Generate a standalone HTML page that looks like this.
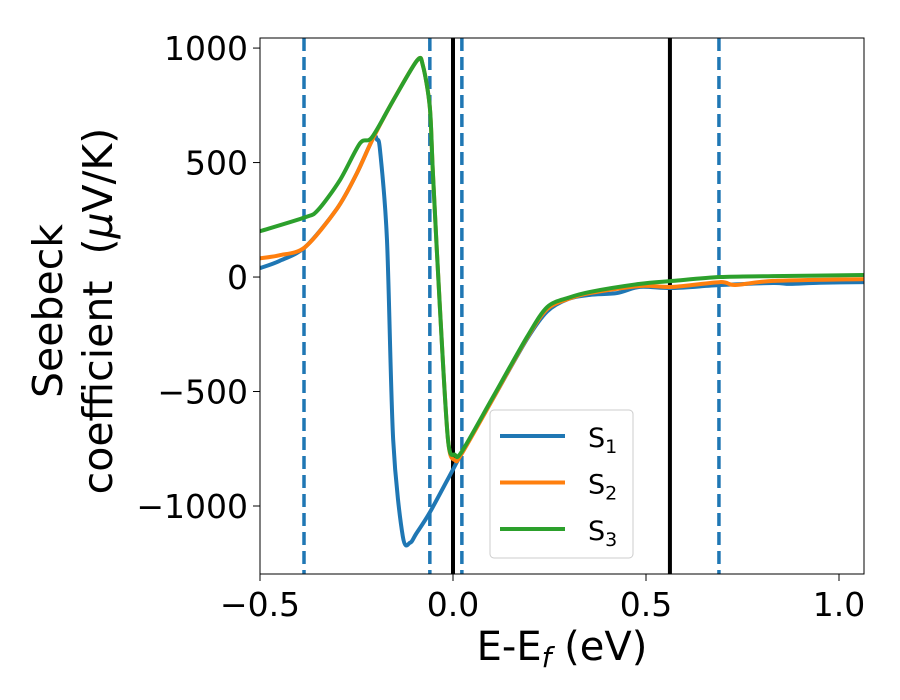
<!DOCTYPE html>
<html><head><meta charset="utf-8"><style>
html,body{margin:0;padding:0;background:#fff;}
svg{display:block;font-family:"DejaVu Sans","Liberation Sans",sans-serif;}
</style></head><body>
<svg id="chart" width="900" height="700" viewBox="0 0 900 700">
<rect x="0" y="0" width="900" height="700" fill="#fff"/>
<g id="marks"></g>
<g id="axes"></g>
<text x="562" y="660" text-anchor="middle" font-size="40" fill="#000">E-E<tspan font-style="italic" font-size="28" dy="7">f</tspan><tspan dy="-7"> (eV)</tspan></text>
<g transform="translate(62,311) rotate(-90)">
<text x="0" y="0" text-anchor="middle" font-size="41" fill="#000">Seebeck</text>
<text x="0" y="50" text-anchor="middle" font-size="41" fill="#000" xml:space="preserve">coefficient  (<tspan font-style="italic">μ</tspan>V/K)</text>
</g>
</svg>
<script>
const blueX=[-0.5,-0.45,-0.383,-0.3,-0.25,-0.207,-0.197,-0.189,-0.171,-0.155,-0.13,-0.111,-0.095,-0.06,-0.003,0.018,0.104,0.192,0.244,0.3,0.355,0.425,0.484,0.57,0.692,0.829,0.873,0.95,1.065];
const blueY=[39,70,131,300,450,606,600,553,161,-710,-1133,-1160,-1120,-1028,-850,-784,-530,-270,-150,-95,-78,-70,-43,-48,-35,-26,-30,-25,-22];
const orangeX=[-0.5,-0.45,-0.383,-0.3,-0.25,-0.207,-0.155,-0.093,-0.078,-0.06,-0.052,-0.034,-0.013,0.005,0.023,0.104,0.192,0.244,0.3,0.355,0.484,0.57,0.692,0.731,0.829,1.065];
const orangeY=[82,95,131,300,450,606,771,946,924,741,453,-131,-710,-800,-770,-530,-265,-140,-95,-70,-39,-43,-22,-35,-17,-9];
const greenX=[-0.5,-0.383,-0.35,-0.293,-0.241,-0.21,-0.155,-0.093,-0.078,-0.06,-0.052,-0.034,-0.013,0.005,0.023,0.104,0.192,0.244,0.3,0.355,0.484,0.57,0.692,0.829,1.065];
const greenY=[200,261,292,423,584,610,771,946,924,741,453,-131,-710,-776,-762,-523,-261,-131,-90,-65,-30,-17,0,4,9];
const dashedLines=[-0.386,-0.06,0.023,0.689];
const solidLines=[0.0,0.562];
const xTicks=[-0.5,0.0,0.5,1.0];
const xTickLabels=["\u22120.5","0.0","0.5","1.0"];
const yTicks=[1000,500,0,-500,-1000];
const yTickLabels=["1000","500","0","\u2212500","\u22121000"];
const seriesNames=["S","S","S"];
const seriesSubs=["1","2","3"];

const L=260,R=864,T=38,B=574,xmin=-0.5,xmax=1.0648,ymin=-1297,ymax=1044;
function sx(v){return L+(v-xmin)/(xmax-xmin)*(R-L);}
function sy(v){return B-(v-ymin)/(ymax-ymin)*(B-T);}
const NS="http://www.w3.org/2000/svg";
function mk(tag,attrs,parent){const e=document.createElementNS(NS,tag);for(const k in attrs)e.setAttribute(k,attrs[k]);parent.appendChild(e);return e;}
const marks=document.getElementById('marks'),axes=document.getElementById('axes');
const clip=mk('clipPath',{id:'pc'},marks);mk('rect',{x:L,y:T,width:R-L,height:B-T},clip);
const plot=mk('g',{'clip-path':'url(#pc)'},marks);
function pathFor(xs,ys){const p=xs.map((x,i)=>[sx(x),sy(ys[i])]);let d='M'+p[0][0]+','+p[0][1];
for(let i=0;i<p.length-1;i++){const p0=p[i-1]||p[i],p1=p[i],p2=p[i+1],p3=p[i+2]||p2;const t=0.5/3;
const c1=[p1[0]+(p2[0]-p0[0])*t*0.9,p1[1]+(p2[1]-p0[1])*t*0.9],c2=[p2[0]-(p3[0]-p1[0])*t*0.9,p2[1]-(p3[1]-p1[1])*t*0.9];
d+=' C'+c1[0]+','+c1[1]+' '+c2[0]+','+c2[1]+' '+p2[0]+','+p2[1];}return d;}
dashedLines.forEach(v=>{const l=mk('line',{x1:sx(v),x2:sx(v),y1:T,y2:B,stroke:'#1f77b4','stroke-width':3.5,'stroke-dasharray':'13,6'},plot);

});
solidLines.forEach(v=>{const l=mk('line',{x1:sx(v),x2:sx(v),y1:T,y2:B,stroke:'#000','stroke-width':4},plot);

});
const series=[[blueX,blueY,'#1f77b4','series-s1'],[orangeX,orangeY,'#ff7f0e','series-s2'],[greenX,greenY,'#2ca02c','series-s3']];
series.forEach(s=>{const p=mk('path',{d:pathFor(s[0],s[1]),fill:'none',stroke:s[2],'stroke-width':4,'stroke-linejoin':'round'},plot);

});
const frame=mk('rect',{x:L,y:T,width:R-L,height:B-T,fill:'none',stroke:'#000','stroke-width':1},axes);


xTicks.forEach((v,i)=>{mk('line',{x1:sx(v),x2:sx(v),y1:B,y2:B+7,stroke:'#000','stroke-width':1},axes);
const t=mk('text',{x:sx(v),y:B+42,'text-anchor':'middle','font-size':33,fill:'#000'},axes);t.textContent=xTickLabels[i];

});
yTicks.forEach((v,i)=>{mk('line',{x1:L-7,x2:L,y1:sy(v),y2:sy(v),stroke:'#000','stroke-width':1},axes);
const t=mk('text',{x:L-12,y:sy(v)+12,'text-anchor':'end','font-size':33,fill:'#000'},axes);t.textContent=yTickLabels[i];

});
const leg=mk('g',{},axes);


mk('rect',{x:490,y:410,width:143,height:148,rx:4,fill:'#fff','fill-opacity':0.8,stroke:'#ccc','stroke-width':1},leg);
series.forEach((s,i)=>{const y=436+i*46.5;
const ln=mk('line',{x1:500,x2:565,y1:y,y2:y,stroke:s[2],'stroke-width':4},leg);


const t=mk('text',{x:588,y:y+11,'font-size':27,fill:'#000'},leg);


t.textContent=seriesNames[i];const ts=mk('tspan',{'font-size':19,dy:6},t);ts.textContent=seriesSubs[i];});
</script>
</body></html>
